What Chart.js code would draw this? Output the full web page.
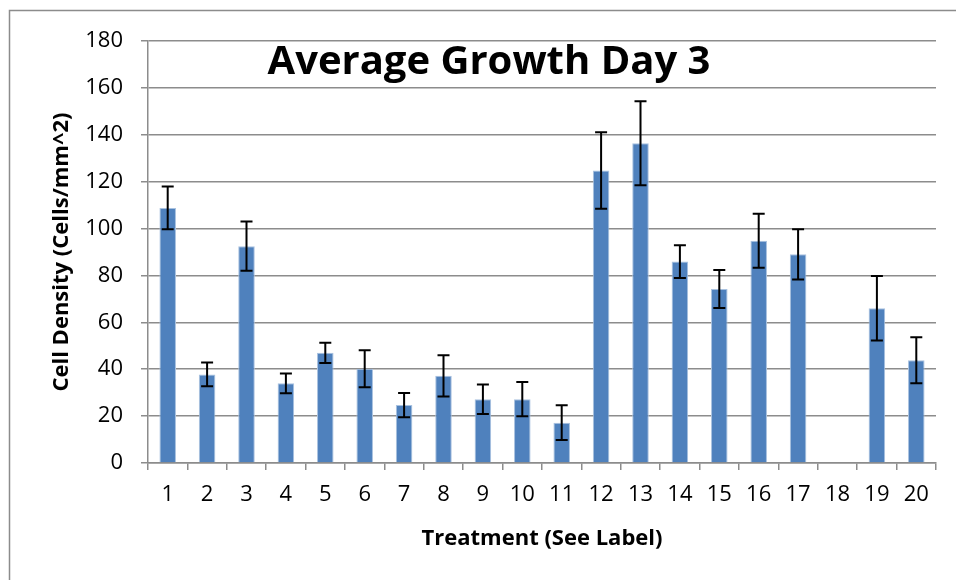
<!DOCTYPE html>
<html>
<head>
<meta charset="utf-8">
<script src="https://cdn.jsdelivr.net/npm/chart.js@4"></script>
<style>
  html, body { margin: 0; padding: 0; background: #fff; }
  #wrap { width: 956px; height: 580px; position: relative; }
</style>
</head>
<body>
<div id="wrap"><canvas id="chart" width="956" height="580"></canvas></div>
<script>
// data
var treatments = ["1", "2", "3", "4", "5", "6", "7", "8", "9", "10",
                  "11", "12", "13", "14", "15", "16", "17", "18", "19", "20"];
var meanDensity = [108.8, 37.8, 92.5, 34.0, 47.0, 40.2, 24.7, 37.2, 27.2, 27.2,
                   17.2, 124.8, 136.4, 85.9, 74.2, 94.8, 89.0, 0.3, 66.0, 43.8];
var errDensity = [9.1, 5.1, 10.5, 4.2, 4.3, 7.9, 5.2, 8.8, 6.3, 7.3,
                  7.4, 16.3, 17.9, 7.0, 8.1, 11.5, 10.7, 0, 13.8, 9.8];
var yTicks = [0, 20, 40, 60, 80, 100, 120, 140, 160, 180];

var FONT = "'Open Sans', Lato, sans-serif";

// outer frame like the excel chart area
var framePlugin = {
  id: "frame",
  beforeDraw: function (chart) {
    var ctx = chart.ctx;
    ctx.save();
    ctx.fillStyle = "#fff";
    ctx.fillRect(0, 0, chart.width, chart.height);
    ctx.strokeStyle = "#8c8c8c";
    ctx.lineWidth = 1.5;
    ctx.beginPath();
    ctx.moveTo(9.5, chart.height);
    ctx.lineTo(9.5, 10.5);
    ctx.lineTo(chart.width, 10.5);
    ctx.stroke();
    ctx.restore();
  }
};

// error bars, positioned through the chart scales
var errorBarPlugin = {
  id: "errorBars",
  afterDatasetsDraw: function (chart) {
    var ctx = chart.ctx;
    var meta = chart.getDatasetMeta(0);
    var y = chart.scales.y;
    ctx.save();
    ctx.strokeStyle = "#000";
    ctx.lineWidth = 2;
    meta.data.forEach(function (bar, i) {
      var e = errDensity[i];
      if (!e) return;
      var top = y.getPixelForValue(meanDensity[i] + e);
      var bot = y.getPixelForValue(meanDensity[i] - e);
      var x = bar.x;
      ctx.beginPath();
      ctx.moveTo(x, top);
      ctx.lineTo(x, bot);
      ctx.moveTo(x - 6, top);
      ctx.lineTo(x + 6, top);
      ctx.moveTo(x - 6, bot);
      ctx.lineTo(x + 6, bot);
      ctx.stroke();
    });
    ctx.restore();
  }
};

// floating title over the plot, as in the original
var titlePlugin = {
  id: "floatTitle",
  afterDraw: function (chart) {
    var ctx = chart.ctx;
    ctx.save();
    ctx.fillStyle = "#000";
    ctx.font = "bold 40px " + FONT;
    ctx.textAlign = "center";
    ctx.textBaseline = "alphabetic";
    ctx.fillText("Average Growth Day 3", 489, 74);
    ctx.restore();
  }
};

new Chart(document.getElementById("chart"), {
  type: "bar",
  data: {
    labels: treatments,
    datasets: [{
      data: meanDensity,
      backgroundColor: "#4f81bd",
      borderColor: "#a9c2e0",
      borderWidth: 1,
      categoryPercentage: 1,
      barPercentage: 0.42
    }]
  },
  options: {
    responsive: false,
    animation: false,
    layout: { padding: { top: 41, right: 20, left: 0, bottom: 0 } },
    plugins: { legend: { display: false }, tooltip: { enabled: false } },
    scales: {
      x: {
        grid: { drawOnChartArea: false, drawTicks: true, tickLength: 7, color: "#8c8c8c", lineWidth: 1.5 },
        border: { color: "#8c8c8c", width: 1.5 },
        ticks: { color: "#000", font: { family: FONT, size: 22 }, padding: 12, maxRotation: 0, autoSkip: false },
        title: { display: true, text: "Treatment (See Label)", color: "#000",
                 font: { family: FONT, size: 22, weight: "bold" }, padding: { top: 0, bottom: 28 } },
        afterFit: function (s) { s.height = 117; }
      },
      y: {
        min: 0, max: 180,
        afterBuildTicks: function (s) { s.ticks = yTicks.map(function (v) { return { value: v }; }); },
        grid: { color: "#8c8c8c", lineWidth: 1.5, tickLength: 7 },
        border: { color: "#8c8c8c", width: 1.5 },
        ticks: { color: "#000", font: { family: FONT, size: 22 }, padding: 18 },
        title: { display: true, text: "Cell Density (Cells/mm^2)", color: "#000",
                 font: { family: FONT, size: 22, weight: "bold" }, padding: { top: 49, bottom: 0 } },
        afterFit: function (s) { s.width = 148; }
      }
    }
  },
  plugins: [framePlugin, errorBarPlugin, titlePlugin]
});
</script>
</body>
</html>
